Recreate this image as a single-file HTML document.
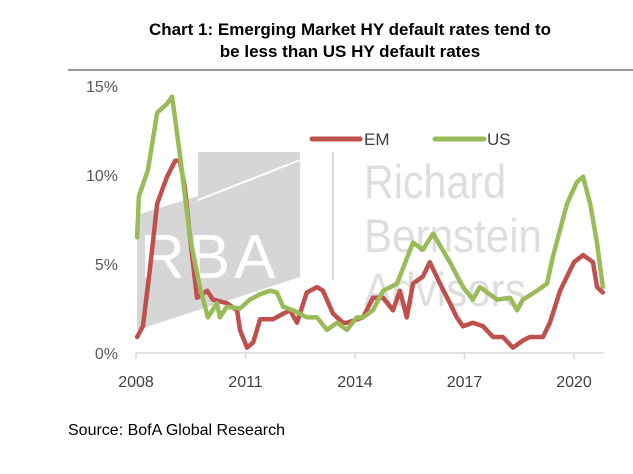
<!DOCTYPE html>
<html><head><meta charset="utf-8"><style>
body{margin:0;background:#fff;}
svg{display:block;font-family:"Liberation Sans",sans-serif;}
</style></head><body>
<svg id="chart" width="633" height="474" viewBox="0 0 633 474">
<text x="350" y="35" text-anchor="middle" font-size="17" font-weight="bold" fill="#000">Chart 1: Emerging Market HY default rates tend to</text>
<text x="350" y="57" text-anchor="middle" font-size="17" font-weight="bold" fill="#000">be less than US HY default rates</text>
<line x1="68" y1="70" x2="633" y2="70" stroke="#333" stroke-width="1"/>
<g>
<polygon points="198,152 300,152 300,277 137,330 137,215 198,196" fill="#d6d6d6"/>
<line x1="198" y1="200" x2="300" y2="160" stroke="#fff" stroke-width="2"/>
<text x="140" y="278" font-size="62" fill="#fff" letter-spacing="4">RBA</text>
<line x1="333" y1="152" x2="333" y2="280" stroke="#dcdcdc" stroke-width="2"/>
<text x="364" y="198" font-size="47" fill="#dedede" textLength="142" lengthAdjust="spacingAndGlyphs">Richard</text>
<text x="364" y="252" font-size="47" fill="#dedede" textLength="178" lengthAdjust="spacingAndGlyphs">Bernstein</text>
<text x="364" y="306" font-size="47" fill="#dedede" textLength="162" lengthAdjust="spacingAndGlyphs">Advisors</text>
</g>
<g id="axes"></g>
<g id="series"></g>
<g>
<line x1="312" y1="139" x2="360" y2="139" stroke="#c0504d" stroke-width="5" stroke-linecap="round"/>
<text x="364" y="145" font-size="17" fill="#404040">EM</text>
<line x1="435" y1="139" x2="484" y2="139" stroke="#9bbb59" stroke-width="5" stroke-linecap="round"/>
<text x="487" y="145" font-size="17" fill="#404040">US</text>
</g>
<text x="68" y="435" font-size="16" fill="#000">Source:  BofA Global Research</text>
</svg>
<script>
const xTicks=[2008,2011,2014,2017,2020];
const yTicks=[0,5,10,15];
const usYears=[2008.03,2008.08,2008.33,2008.58,2008.85,2008.99,2009.2,2009.48,2009.75,2009.97,2010.22,2010.3,2010.49,2010.85,2011.12,2011.4,2011.67,2011.86,2012.03,2012.3,2012.68,2012.96,2013.23,2013.51,2013.78,2014.05,2014.22,2014.49,2014.77,2015.15,2015.59,2015.86,2016.14,2016.6,2016.96,2017.23,2017.42,2017.89,2018.25,2018.44,2018.6,2018.99,2019.26,2019.42,2019.81,2020.08,2020.25,2020.44,2020.63,2020.79];
const usValues=[6.5,8.8,10.3,13.5,14.0,14.4,11.2,6.5,3.7,2.0,2.8,2.0,2.6,2.5,3.0,3.3,3.5,3.4,2.6,2.4,2.0,2.0,1.3,1.7,1.3,2.0,2.0,2.4,3.5,3.9,6.2,5.8,6.7,5.1,3.7,3.0,3.7,3.0,3.1,2.4,3.0,3.5,3.9,5.4,8.4,9.6,9.9,8.4,6.2,3.7];
const emYears=[2008.03,2008.19,2008.38,2008.58,2008.85,2009.07,2009.2,2009.34,2009.48,2009.67,2009.95,2010.11,2010.49,2010.77,2010.85,2011.04,2011.21,2011.4,2011.75,2012.03,2012.22,2012.41,2012.68,2012.96,2013.12,2013.4,2013.67,2013.78,2014.22,2014.49,2014.77,2015.04,2015.23,2015.42,2015.59,2015.86,2016.05,2016.33,2016.6,2016.79,2016.96,2017.23,2017.51,2017.78,2018.05,2018.33,2018.6,2018.79,2019.15,2019.34,2019.62,2020.0,2020.25,2020.52,2020.63,2020.79];
const emValues=[0.9,1.5,4.7,8.4,9.9,10.8,10.8,9.3,6.5,3.1,3.5,3.0,2.8,2.4,1.3,0.3,0.6,1.9,1.9,2.2,2.4,1.7,3.4,3.7,3.5,2.2,1.7,1.7,2.0,3.1,3.1,2.4,3.5,2.0,3.9,4.3,5.1,3.9,2.8,2.0,1.5,1.7,1.5,0.9,0.9,0.3,0.7,0.9,0.9,1.7,3.5,5.1,5.5,5.1,3.7,3.4];
const NS='http://www.w3.org/2000/svg';
function xs(y){return 136+(y-2008)*36.5;}
function ys(v){return 353-v*17.8;}
const axes=document.getElementById('axes');
const base=document.createElementNS(NS,'line');


base.setAttribute('x1',136);base.setAttribute('x2',604);base.setAttribute('y1',353);base.setAttribute('y2',353);
base.setAttribute('stroke','#d9d9d9');base.setAttribute('stroke-width','1.5');
axes.appendChild(base);
xTicks.forEach(t=>{
 const l=document.createElementNS(NS,'line');
 
 
 l.setAttribute('x1',xs(t));l.setAttribute('x2',xs(t));l.setAttribute('y1',353);l.setAttribute('y2',359);
 l.setAttribute('stroke','#d9d9d9');l.setAttribute('stroke-width','1.5');
 axes.appendChild(l);
 const tx=document.createElementNS(NS,'text');
 
 
 tx.setAttribute('x',xs(t));tx.setAttribute('y',387);tx.setAttribute('text-anchor','middle');
 tx.setAttribute('font-size','16');tx.setAttribute('fill','#404040');
 tx.textContent=t;axes.appendChild(tx);
});
yTicks.forEach(t=>{
 const tx=document.createElementNS(NS,'text');
 
 
 tx.setAttribute('x',118);tx.setAttribute('y',ys(t)+6);tx.setAttribute('text-anchor','end');
 tx.setAttribute('font-size','16');tx.setAttribute('fill','#595959');
 tx.textContent=t+'%';axes.appendChild(tx);
});
const series=document.getElementById('series');
function draw(years,vals,color,name){
 const p=document.createElementNS(NS,'path');
 
 
 p.setAttribute('d',years.map((y,i)=>(i?'L':'M')+xs(y).toFixed(1)+','+ys(vals[i]).toFixed(1)).join(''));
 p.setAttribute('fill','none');p.setAttribute('stroke',color);p.setAttribute('stroke-width','4.5');
 p.setAttribute('stroke-linejoin','round');p.setAttribute('stroke-linecap','round');
 series.appendChild(p);
}
draw(emYears,emValues,'#c0504d','em-line');
draw(usYears,usValues,'#9bbb59','us-line');
</script>
</body></html>
